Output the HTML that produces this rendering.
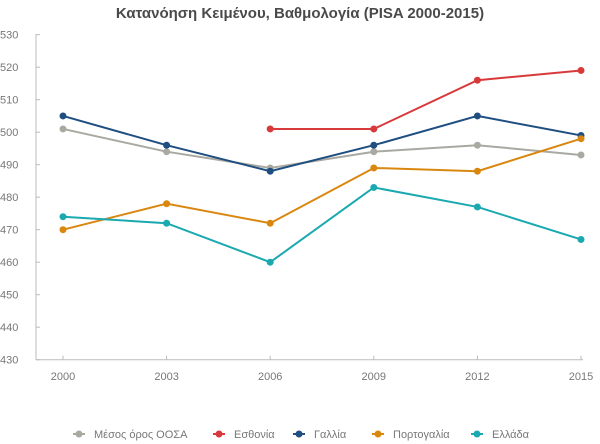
<!DOCTYPE html>
<html><head><meta charset="utf-8"><style>
body{margin:0;background:#fff;width:600px;height:444px;overflow:hidden}
svg{display:block}
text{font-family:"Liberation Sans","DejaVu Sans",sans-serif}
</style></head><body>
<svg id="c" width="600" height="444" xmlns="http://www.w3.org/2000/svg">
<text x="300" y="18" text-anchor="middle" font-size="15" font-weight="bold" fill="#4a4a4a">Κατανόηση Κειμένου, Βαθμολογία (PISA 2000-2015)</text>
<g id="g"></g>
</svg>
<script>
var g=document.getElementById('g'),h='';
function Y(v){return 132.2+(500-v)*3.25}
var X=[63,166.6,270.2,373.8,477.4,581];
h+='<line x1="36" y1="34" x2="36" y2="359.7" stroke="#bbb" stroke-width="1"/>';
h+='<line x1="36" y1="359.7" x2="583" y2="359.7" stroke="#bbb" stroke-width="1"/>';
for(var v=430;v<=530;v+=10){var y=Y(v);h+='<line x1="36" y1="'+y+'" x2="40" y2="'+y+'" stroke="#bbb"/>';h+='<text x="0" y="'+(y+4)+'" font-size="11" fill="#777">'+v+'</text>';}
var yrs=[2000,2003,2006,2009,2012,2015];
for(var i=0;i<6;i++){h+='<line x1="'+X[i]+'" y1="355.7" x2="'+X[i]+'" y2="359.7" stroke="#bbb"/>';h+='<text x="'+X[i]+'" y="380" text-anchor="middle" font-size="11" fill="#777">'+yrs[i]+'</text>';}
var S=[["#a9a9a1",[501,494,489,494,496,493],"Μέσος όρος ΟΟΣΑ",79],
["#d8393a",[null,null,501,501,516,519],"Εσθονία",219],
["#1f4e80",[505,496,488,496,505,499],"Γαλλία",299],
["#d9870f",[470,478,472,489,488,498],"Πορτογαλία",378],
["#1aa9b0",[474,472,460,483,477,467],"Ελλάδα",477]];
S.forEach(function(s){var p=[];s[1].forEach(function(v,i){if(v!==null)p.push(X[i]+','+Y(v))});
h+='<polyline points="'+p.join(' ')+'" fill="none" stroke="'+s[0]+'" stroke-width="2"/>';
p.forEach(function(q){var a=q.split(',');h+='<circle cx="'+a[0]+'" cy="'+a[1]+'" r="3.5" fill="'+s[0]+'"/>'});
h+='<line x1="'+(s[3]-6)+'" y1="434" x2="'+(s[3]+6)+'" y2="434" stroke="'+s[0]+'" stroke-width="2"/><circle cx="'+s[3]+'" cy="434" r="3.5" fill="'+s[0]+'"/>';
h+='<text x="'+(s[3]+15)+'" y="438" font-size="11" fill="#777">'+s[2]+'</text>';});
g.innerHTML=h;
</script>
</body></html>
